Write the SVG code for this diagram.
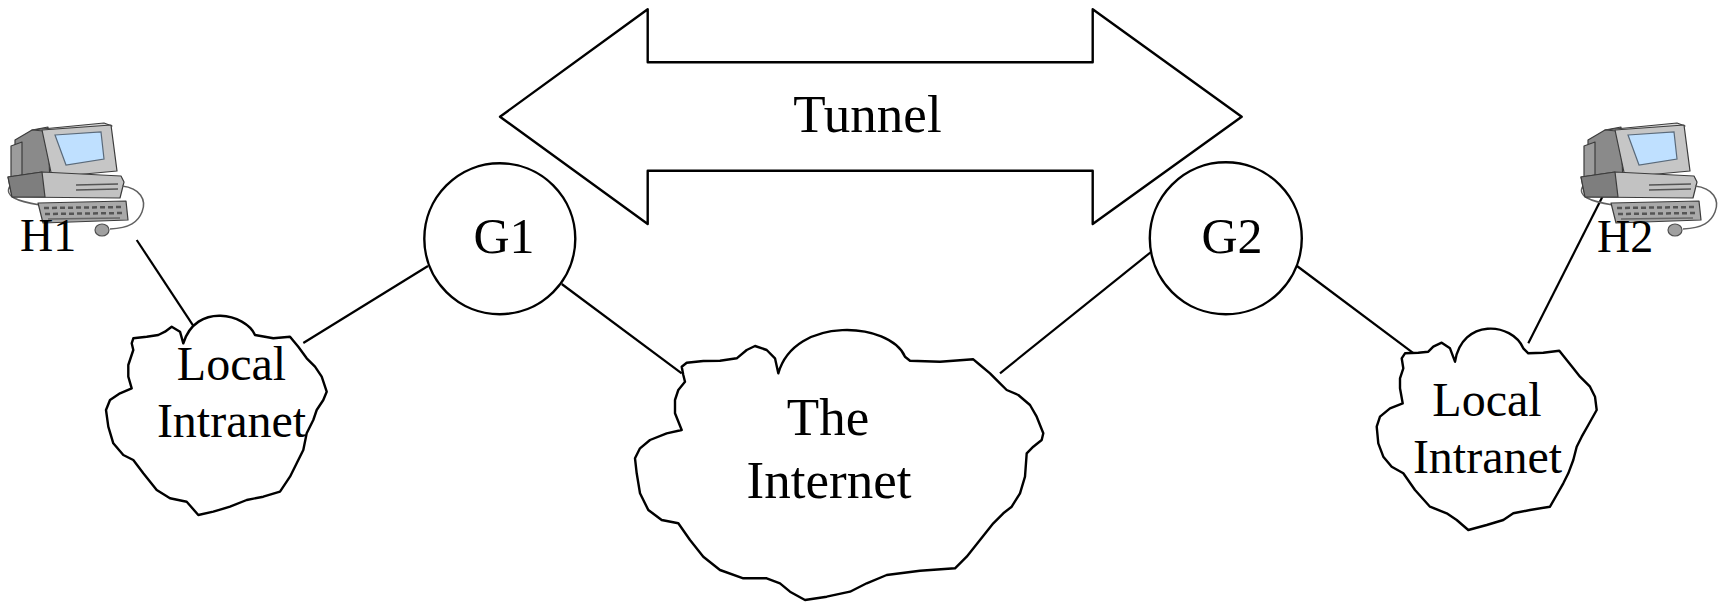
<svg xmlns="http://www.w3.org/2000/svg" width="1720" height="602" viewBox="0 0 1720 602">
  <style>
    .outline { fill: #ffffff; stroke: #000000; stroke-width: 2.4; stroke-linejoin: round; }
    .link { stroke: #000000; stroke-width: 2.2; fill: none; }
    .label { font-family: "Liberation Serif", "Times New Roman", serif; fill: #000000; }
    .pc-edge { stroke: #3c3c3c; stroke-width: 1.2; stroke-linejoin: round; }
  </style>
  <defs>
    <!-- desktop workstation clip-art -->
    <g id="workstation">
      <path d="M10,186 C4,196 16,201 40,205" fill="none" stroke="#606060" stroke-width="1.5"/>
      <polygon class="pc-edge" points="15,140 32,130 48,127 50,186 15,189" fill="#8a8a8a"/>
      <polygon class="pc-edge" points="11,146 22,142 22,178 11,180" fill="#9c9c9c"/>
      <polygon class="pc-edge" points="32,130 104,123 112,126 44,131" fill="#d8d8d8"/>
      <polygon class="pc-edge" points="42,130 111,125 117,171 52,177" fill="#c6c6c6"/>
      <polygon points="55,135 101,132 104,159 66,165" fill="#bfe0ff" stroke="#5a6a7a" stroke-width="1.2"/>
      <polygon class="pc-edge" points="8,177 42,172 121,176 124,182 120,198 12,197" fill="#c2c2c2"/>
      <polygon class="pc-edge" points="8,177 42,172 45,197 12,197" fill="#7e7e7e"/>
      <line x1="76" y1="185" x2="118" y2="184" stroke="#555" stroke-width="1.5"/>
      <line x1="76" y1="190" x2="118" y2="189" stroke="#555" stroke-width="1.5"/>
      <polygon class="pc-edge" points="38,203 126,201 128,220 43,223" fill="#a9a9a9"/>
      <line x1="44" y1="208" x2="124" y2="207" stroke="#555" stroke-width="2.5" stroke-dasharray="5 3"/>
      <line x1="45" y1="214" x2="125" y2="213" stroke="#555" stroke-width="2.5" stroke-dasharray="5 3"/>
      <line x1="48" y1="219" x2="120" y2="218" stroke="#666" stroke-width="1.5"/>
      <path d="M122,186 C140,188 147,200 142,212 C138,222 130,228 110,229" fill="none" stroke="#606060" stroke-width="1.5"/>
      <ellipse cx="102" cy="230" rx="7" ry="6" fill="#a0a0a0" stroke="#505050" stroke-width="1.2"/>
    </g>
  </defs>

  <!-- connectors -->
  <g id="connectors">
    <line class="link" x1="136.7" y1="240" x2="195" y2="328.3"/>
    <line class="link" x1="303.3" y1="343" x2="428" y2="266"/>
    <line class="link" x1="561.7" y1="284" x2="681.7" y2="373.3"/>
    <line class="link" x1="1000" y1="373.3" x2="1151" y2="252"/>
    <line class="link" x1="1297" y1="266" x2="1421.7" y2="359.3"/>
    <line class="link" x1="1603.3" y1="195" x2="1528.3" y2="343.3"/>
  </g>

  <!-- tunnel double arrow -->
  <g id="tunnel">
    <polygon class="outline" stroke-width="2" points="500,116.7 647.7,9.3 647.7,62.3 1092.7,62.3 1092.7,9.3 1241.7,116.7 1092.7,224 1092.7,170.7 647.7,170.7 647.7,224"/>
    <text class="label" x="867.5" y="132.3" font-size="53" text-anchor="middle">Tunnel</text>
  </g>

  <!-- hosts -->
  <g id="h1">
    <use href="#workstation"/>
    <text class="label" x="20" y="251" font-size="46">H1</text>
  </g>
  <g id="h2">
    <use href="#workstation" transform="translate(1573,0)"/>
    <text class="label" x="1597" y="252" font-size="46">H2</text>
  </g>

  <!-- gateways -->
  <g id="g1">
    <circle class="outline" stroke-width="2.2" cx="499.8" cy="238.7" r="75.5"/>
    <text class="label" x="504" y="253.3" font-size="50" text-anchor="middle">G1</text>
  </g>
  <g id="g2">
    <circle class="outline" stroke-width="2.2" cx="1225.8" cy="238.3" r="76"/>
    <text class="label" x="1232" y="253.3" font-size="50" text-anchor="middle">G2</text>
  </g>

  <!-- networks -->
  <g id="intranet-left">
    <path class="outline" d="M183.3,343.3 L180,331.7 171.7,326.7 165,331.7 158.3,335 146.7,336.7 133.3,338.3 131.7,343.3 133.3,350 128.3,365 128.3,376.7 131.7,388.3 120,393.3 110,400 106,410 108.3,426.7 113.3,443.3 123.3,455 133.3,460 143.3,473.3 156.7,490 170,498.3 186.7,501.7 198.3,515 213.3,511.7 230,506.7 246.7,500 263.3,496.7 280,491.7 290,476.7 296.7,463.3 303.3,450 306.7,433.3 313.3,420 316.7,410 323.3,400 326.7,391.7 321.7,376.7 315,366.7 306.7,358.3 298.3,346.7 290,336.7 273.3,338.3 255,335 C246,314 196,302 183.3,343.3 Z"/>
    <text class="label" x="231.5" y="380" font-size="48" text-anchor="middle">Local</text>
    <text class="label" x="231.5" y="436.7" font-size="48" text-anchor="middle">Intranet</text>
  </g>
  <g id="internet">
    <path class="outline" d="M778.3,373.3 L775,358.3 766.7,350 755,346 746.7,350 736.7,358.3 720,360.7 703.3,361 686.7,362.7 681.7,366.7 683.3,375 685,381.7 678.3,390 675,400 675,413.3 681.7,430 666.7,433.3 650,440 640,448.3 635,458.3 636.7,473.3 640,493.3 648.3,510 661.7,520 678.3,523.3 690,540 703.3,556.7 720,570 743.3,578.3 766.7,578.3 780,583.3 790,591.7 805,600 826.7,596.7 850,591.7 866.7,583.3 886.7,575 920,570.7 955,568.3 966.7,556.7 980,540 993.3,523.3 1003.3,513.3 1011.7,506.7 1020,493.3 1025,476.7 1026.7,453.3 1033.3,446.7 1041.7,440 1043.3,433.3 1036.7,416.7 1030,405 1018.3,395 1006.7,390 1000,383.3 990,373.3 980,365 973.3,359.3 940,361.7 910,360.7 905,356.7 C890,322 795,315 778.3,373.3 Z"/>
    <text class="label" x="828" y="435" font-size="53" text-anchor="middle">The</text>
    <text class="label" x="829" y="498.3" font-size="53" text-anchor="middle">Internet</text>
  </g>
  <g id="intranet-right">
    <path class="outline" d="M1455,361.7 L1450,348.3 1441.7,342.7 1433.3,346.7 1428.3,351.7 1418.3,352.7 1405,353.3 1401.7,358.3 1403.3,368.3 1400,378.3 1400,388.3 1402.7,403.3 1390,408.3 1380,416.7 1376.7,426.7 1378.3,443.3 1383.3,456.7 1391.7,466.7 1403.3,473.3 1415,490 1430,506.7 1446.7,513.3 1456.7,520 1468.3,530 1486.7,525 1503.3,520 1513.3,513.3 1530,510 1550,506.7 1556.7,495 1563.3,483.3 1568.3,473.3 1573.3,460 1576.7,446.7 1581.7,436.7 1588.3,425 1596.7,410 1595,396.7 1590,386.7 1580,376.7 1573.3,368.3 1566.7,360 1559.3,350.7 1543.3,352.7 1528.3,353.3 1523.3,348.3 C1512,322 1462,318 1455,361.7 Z"/>
    <text class="label" x="1487" y="416" font-size="48" text-anchor="middle">Local</text>
    <text class="label" x="1487.5" y="473.3" font-size="48" text-anchor="middle">Intranet</text>
  </g>
</svg>
